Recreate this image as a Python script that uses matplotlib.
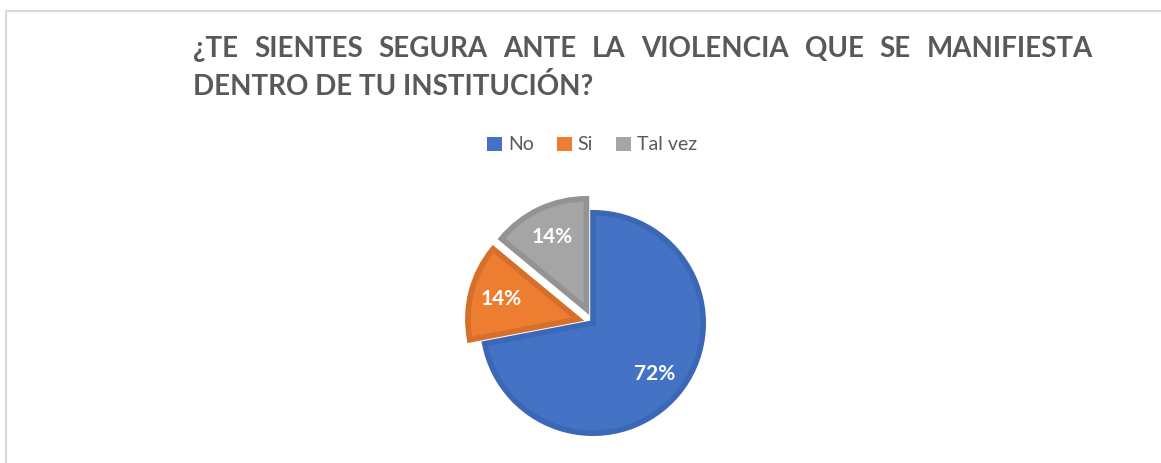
import matplotlib
matplotlib.use("Agg")
import matplotlib.pyplot as plt
from matplotlib.lines import Line2D
from matplotlib.patches import Patch

# Datos
categorias = ["No", "Si", "Tal vez"]
porcentajes = [72, 14, 14]
separacion = [0.0, 0.14, 0.14]
colores = ["#4472C4", "#ED7D31", "#A5A5A5"]
bordes = ["#3C67B6", "#D56F2B", "#939393"]

titulo_1 = "¿TE SIENTES SEGURA ANTE LA VIOLENCIA QUE SE MANIFIESTA"
titulo_2 = "DENTRO DE TU INSTITUCIÓN?"

W, H = 1161, 463
GRIS_TXT = "#595959"
FUENTE = ["Lato", "DejaVu Sans"]

fig = plt.figure(figsize=(W / 100, H / 100), dpi=100)
fig.patch.set_facecolor("white")

# Marco del gráfico (solo arriba e izquierda visibles)
fig.add_artist(Line2D([6 / W, 6 / W], [0, 1 - 11 / H], color="#D9D9D9", lw=1.5))
fig.add_artist(Line2D([6 / W, 1], [1 - 11 / H, 1 - 11 / H], color="#D9D9D9", lw=1.5))

# Título justificado: primera línea repartida entre x0 y x1
x0, x1 = 193, 1093
y1, y2 = 1 - 57 / H, 1 - 95 / H
fs_titulo = 20
renderer = fig.canvas.get_renderer()
palabras = titulo_1.split()
textos = []
anchos = []
for p in palabras:
    t = fig.text(0, y1, p, fontsize=fs_titulo, fontweight="bold", color=GRIS_TXT,
                 family=FUENTE, va="baseline", ha="left")
    textos.append(t)
    anchos.append(t.get_window_extent(renderer).width)
hueco = (x1 - x0 - sum(anchos)) / (len(palabras) - 1)
x = x0
for t, a in zip(textos, anchos):
    t.set_x(x / W)
    x += a + hueco
fig.text(x0 / W, y2, titulo_2, fontsize=fs_titulo, fontweight="bold", color=GRIS_TXT,
         family=FUENTE, va="baseline", ha="left")

# Pastel: centro en (593, 323) px, radio ~113 px (borde hacia dentro)
lw_pt = 4.0
cx, cy, r_px = 593, H - 323, 113 - lw_pt * 100 / 72 / 2
lado = 320
ax = fig.add_axes([(cx - lado / 2) / W, (cy - lado / 2) / H, lado / W, lado / H])
lim = lado / 2 / r_px

wedges, _, autotexts = ax.pie(
    porcentajes,
    explode=separacion,
    colors=colores,
    startangle=90,
    counterclock=False,
    autopct=lambda v: f"{v:.0f}%",
    pctdistance=0.72,
    radius=1.0,
    wedgeprops=dict(linewidth=lw_pt),
    textprops=dict(color="white", fontsize=15, fontweight="bold", family=FUENTE),
)
for w, b in zip(wedges, bordes):
    w.set_edgecolor(b)
    w.set_joinstyle("miter")
ax.set_xlim(-lim, lim)
ax.set_ylim(-lim, lim)
ax.set_aspect("equal")
ax.axis("off")

# Leyenda
handles = [Patch(facecolor=c, edgecolor="none") for c in colores]
fig.legend(handles, categorias, loc="center", bbox_to_anchor=(592 / W, 1 - 145 / H),
           ncol=3, frameon=False, handlelength=0.75, handleheight=0.75,
           handletextpad=0.3, columnspacing=1.2,
           prop=dict(family=FUENTE, size=14), labelcolor=GRIS_TXT)

fig.savefig("out.png", dpi=100, facecolor="white")
